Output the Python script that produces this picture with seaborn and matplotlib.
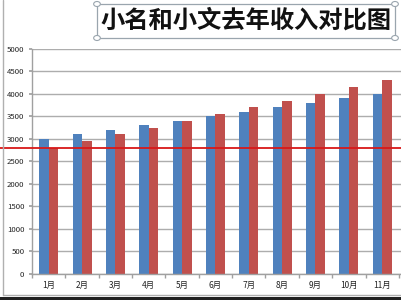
import matplotlib
matplotlib.use("Agg")
import matplotlib.pyplot as plt
import seaborn as sns
import pandas as pd
from matplotlib.patches import Rectangle, Circle
from matplotlib.lines import Line2D

months = ["1月", "2月", "3月", "4月", "5月", "6月", "7月", "8月", "9月", "10月", "11月"]
xiaoming = [3000, 3100, 3200, 3300, 3400, 3500, 3600, 3700, 3800, 3900, 4000]
xiaowen = [2800, 2950, 3100, 3250, 3400, 3550, 3700, 3850, 4000, 4150, 4300]
series_names = ["小名", "小文"]
ref_value = 2790
title = "小名和小文去年收入对比图"
yticks = list(range(0, 5001, 500))

df = pd.DataFrame({
    "month": months * 2,
    "income": xiaoming + xiaowen,
    "who": [series_names[0]] * len(months) + [series_names[1]] * len(months),
})

sns.set_theme(style="white")
plt.rcParams["font.family"] = ["Noto Sans CJK SC", "DejaVu Sans"]

W, H = 401, 300
fig = plt.figure(figsize=(W / 100, H / 100), dpi=100)
fig.patch.set_facecolor("white")

left, bottom, top = 32, 273.7, 49
ax = fig.add_axes([left / W, (H - bottom) / H, (W - left) / W, (bottom - top) / H])

sns.barplot(data=df, x="month", y="income", hue="who", order=months,
            palette=["#4F81BD", "#C0504D"], width=0.57, saturation=1,
            legend=False, ax=ax, linewidth=0)

band = 33.35
ax.set_xlim(-0.5, -0.5 + (W - left) / band)
ax.set_ylim(0, 5000)
ax.set_yticks(yticks)
ax.set_yticklabels([str(v) for v in yticks])
ax.set_xticks(range(len(months)))
ax.set_xticklabels(months)
ax.set_xticks([i - 0.5 for i in range(len(months) + 1)], minor=True)
ax.set_xlabel("")
ax.set_ylabel("")
ax.grid(axis="y", color="#ADADAD", linewidth=1.0)
ax.set_axisbelow(True)
for s in ["top", "right"]:
    ax.spines[s].set_visible(False)
for s in ["left", "bottom"]:
    ax.spines[s].set_color("#A0A0A0")
    ax.spines[s].set_linewidth(1.0)
ax.tick_params(axis="y", which="major", length=2.5, color="#A0A0A0",
               labelsize=5.6, labelcolor="#222222", pad=3, left=True)
ax.tick_params(axis="x", which="major", length=0, labelsize=6,
               labelcolor="#222222", pad=5)
ax.tick_params(axis="x", which="minor", length=3, color="#A0A0A0", bottom=True)

ax.axhline(ref_value, xmin=-left / (W - left), xmax=1, color="#D81818",
           linewidth=1.3, clip_on=False, zorder=5)

# title box
fig.text(246 / W, 1 - 21 / H, title, ha="center", va="center",
         fontsize=17.5, fontweight="heavy", color="#111111",
         family=["Noto Sans CJK SC", "DejaVu Sans"])
bx0, by0, bx1, by1 = 97, 4, 395, 38
fig.patches.append(Rectangle((bx0 / W, 1 - by1 / H), (bx1 - bx0) / W, (by1 - by0) / H,
                             transform=fig.transFigure, fill=False,
                             edgecolor="#9AA5AE", linewidth=0.9))
for cx, cy in [(bx0, by0), (bx1, by0), (bx0, by1), (bx1, by1)]:
    fig.patches.append(Circle((cx / W, 1 - cy / H), 2.5 / H,
                              transform=fig.transFigure, facecolor="white",
                              edgecolor="#9AA5AE", linewidth=0.8))

# outer chart frame
fig.lines.append(Line2D([2.5 / W, 2.5 / W], [1 - 295 / H, 1], transform=fig.transFigure,
                        color="#B0B0B0", linewidth=1))
fig.lines.append(Line2D([2.5 / W, 1], [1 - 295 / H, 1 - 295 / H], transform=fig.transFigure,
                        color="#B0B0B0", linewidth=1))
fig.patches.append(Rectangle((0, 0), 1, 3 / H, transform=fig.transFigure,
                             facecolor="#222222", edgecolor="none"))

fig.savefig("out.png", dpi=100)
